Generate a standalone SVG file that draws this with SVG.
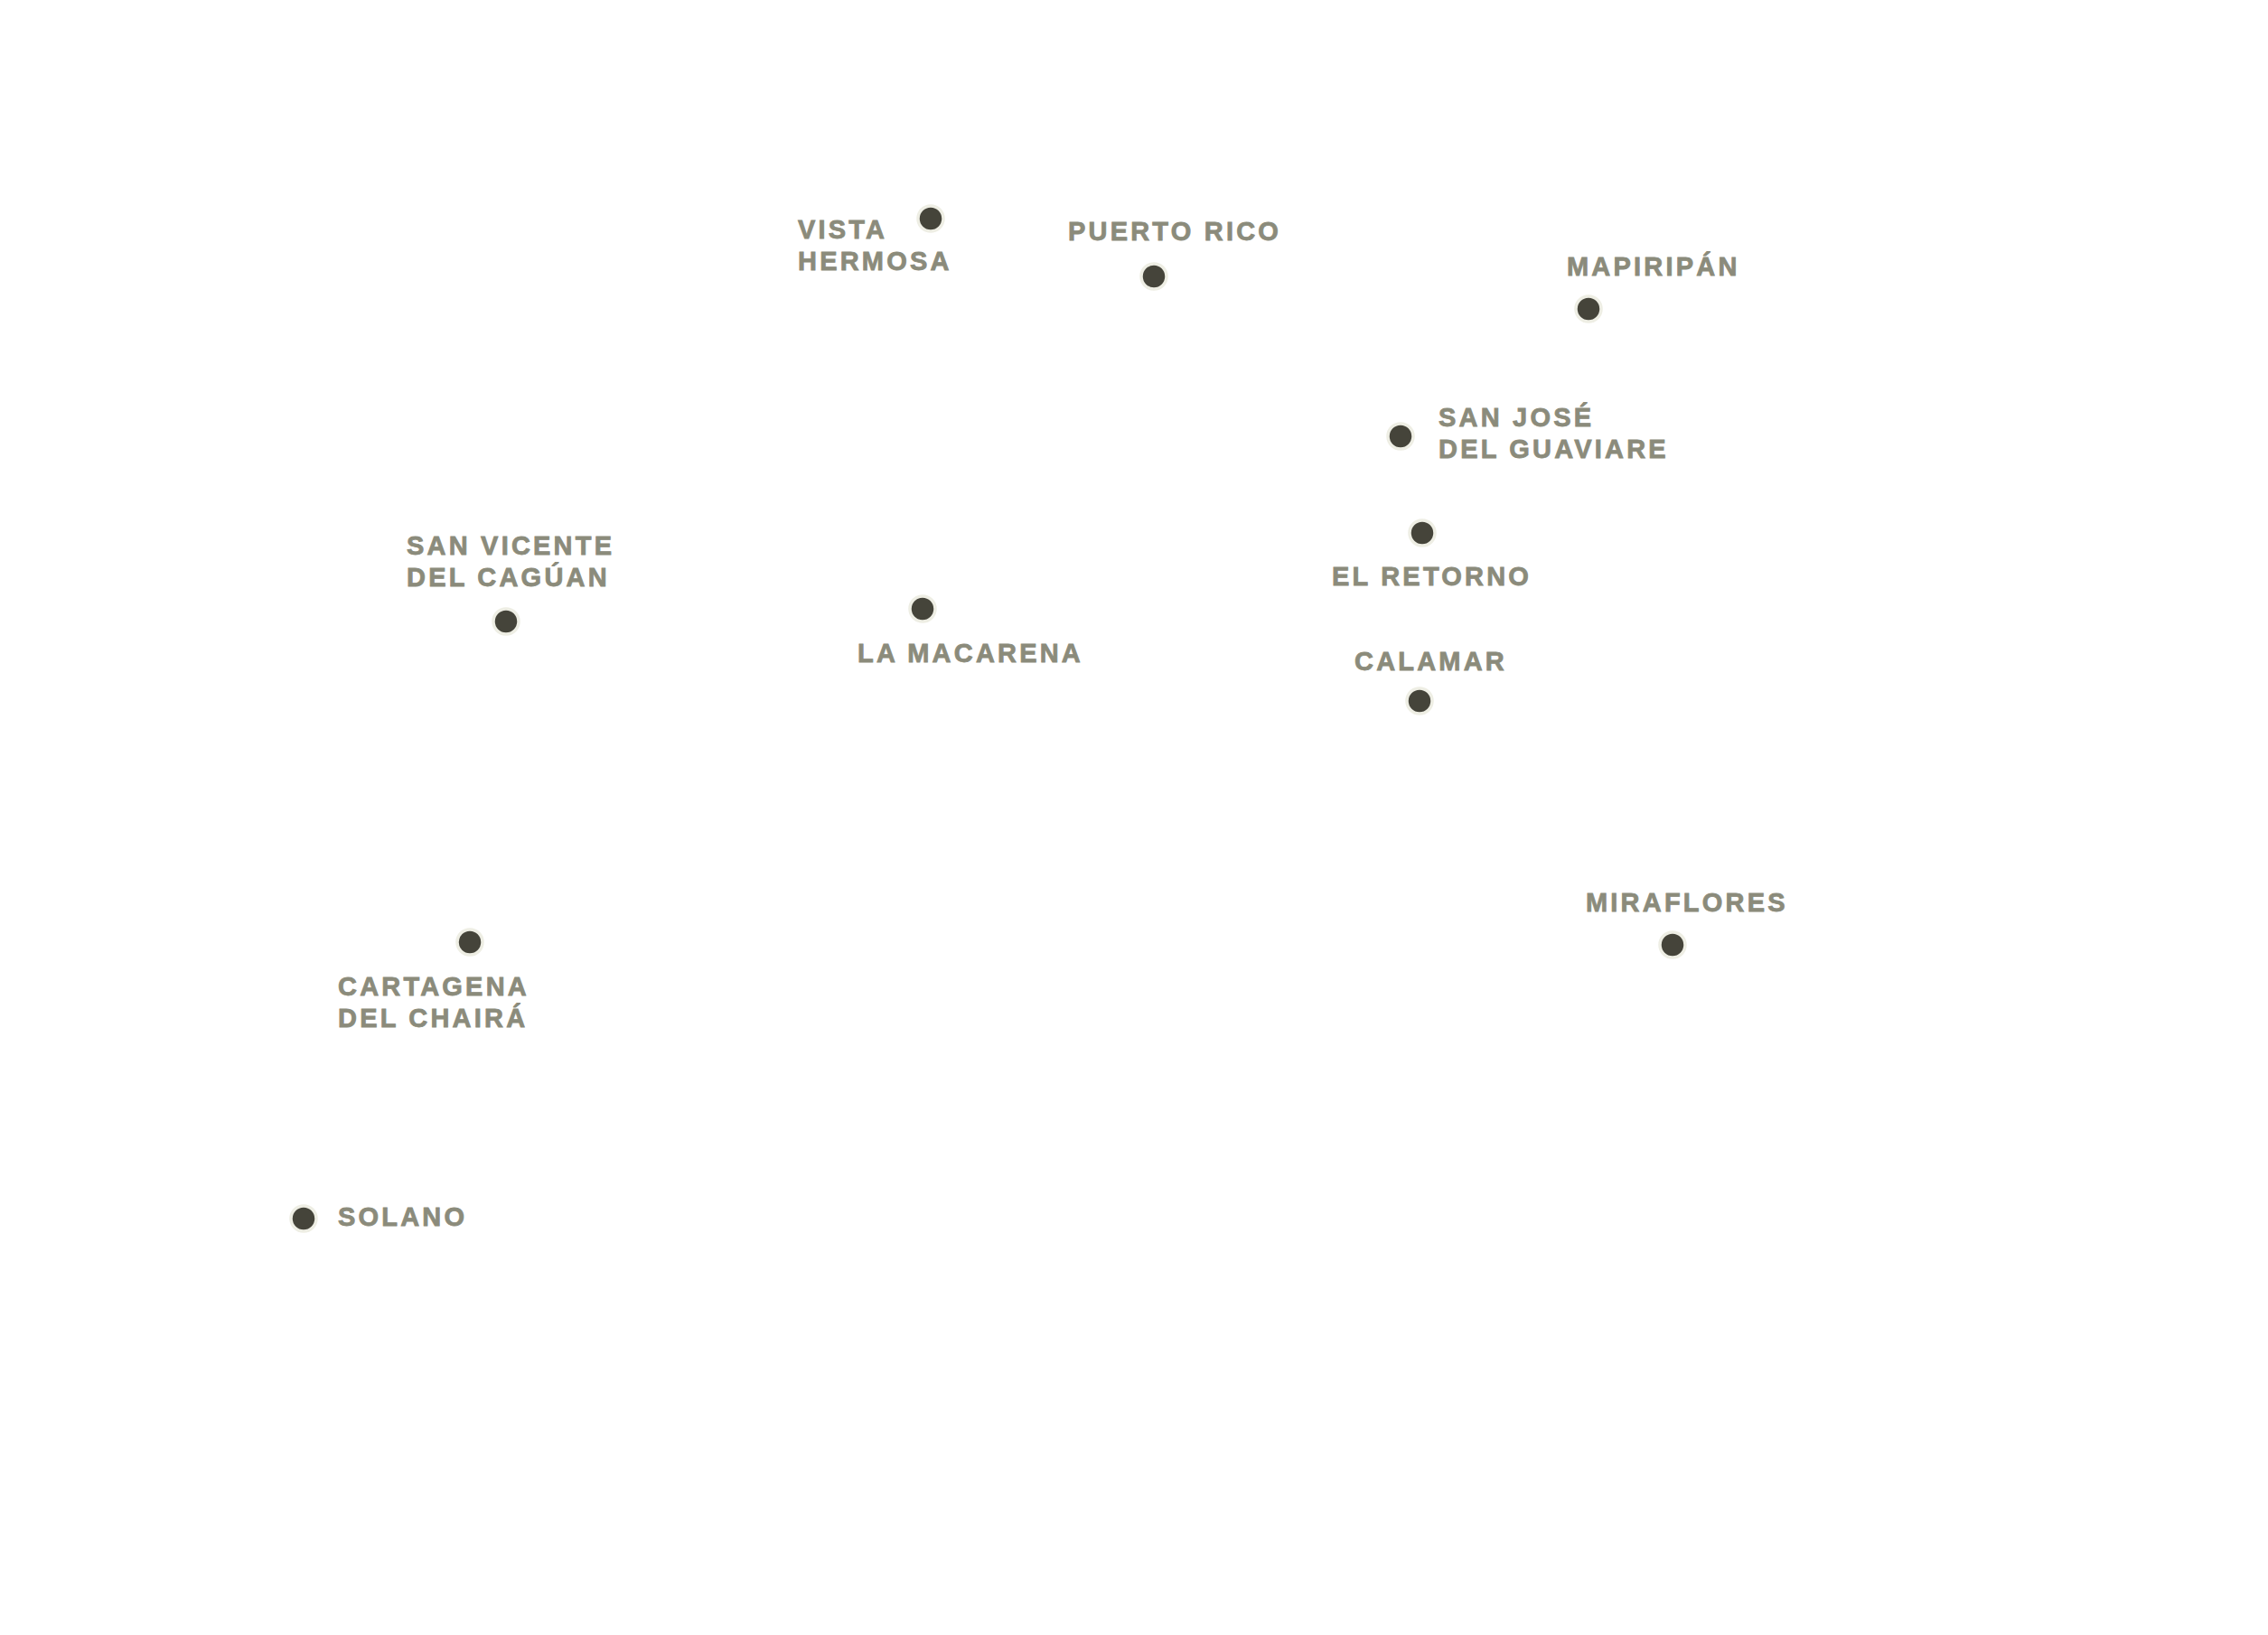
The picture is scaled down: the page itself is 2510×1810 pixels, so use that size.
<svg xmlns="http://www.w3.org/2000/svg" width="2510" height="1810" viewBox="0 0 2510 1810">
<style>
.d{fill:#45443a;stroke:#eeeee4;stroke-width:3.5}
.t{font-family:"Liberation Sans",Arial,sans-serif;font-weight:bold;font-size:29px;letter-spacing:3.2px;fill:#8b8b7b;stroke:#8b8b7b;stroke-width:0.8}
</style>
<rect width="2510" height="1810" fill="#fff"/>
<g id="vista-hermosa"><circle class="d" cx="1030" cy="242" r="14"/><text class="t" x="883" y="264">VISTA</text><text class="t" x="883" y="299">HERMOSA</text></g>
<g id="puerto-rico"><circle class="d" cx="1277" cy="306" r="14"/><text class="t" x="1182" y="266">PUERTO RICO</text></g>
<g id="mapiripan"><circle class="d" cx="1758" cy="342" r="14"/><text class="t" x="1734" y="305">MAPIRIPÁN</text></g>
<g id="san-jose"><circle class="d" cx="1550" cy="483" r="14"/><text class="t" x="1592" y="472">SAN JOSÉ</text><text class="t" x="1592" y="507">DEL GUAVIARE</text></g>
<g id="el-retorno"><circle class="d" cx="1574" cy="590" r="14"/><text class="t" x="1474" y="648">EL RETORNO</text></g>
<g id="calamar"><circle class="d" cx="1571" cy="776" r="14"/><text class="t" x="1499" y="742">CALAMAR</text></g>
<g id="la-macarena"><circle class="d" cx="1021" cy="674" r="14"/><text class="t" x="949" y="733">LA MACARENA</text></g>
<g id="san-vicente"><circle class="d" cx="560" cy="688" r="14"/><text class="t" x="450" y="614">SAN VICENTE</text><text class="t" x="450" y="649">DEL CAGÚAN</text></g>
<g id="cartagena"><circle class="d" cx="520" cy="1043" r="14"/><text class="t" x="374" y="1102">CARTAGENA</text><text class="t" x="374" y="1137">DEL CHAIRÁ</text></g>
<g id="solano"><circle class="d" cx="336" cy="1349" r="14"/><text class="t" x="374" y="1357">SOLANO</text></g>
<g id="miraflores"><circle class="d" cx="1851" cy="1046" r="14"/><text class="t" x="1755" y="1009">MIRAFLORES</text></g>
<g id="connectors"/>
</svg>
